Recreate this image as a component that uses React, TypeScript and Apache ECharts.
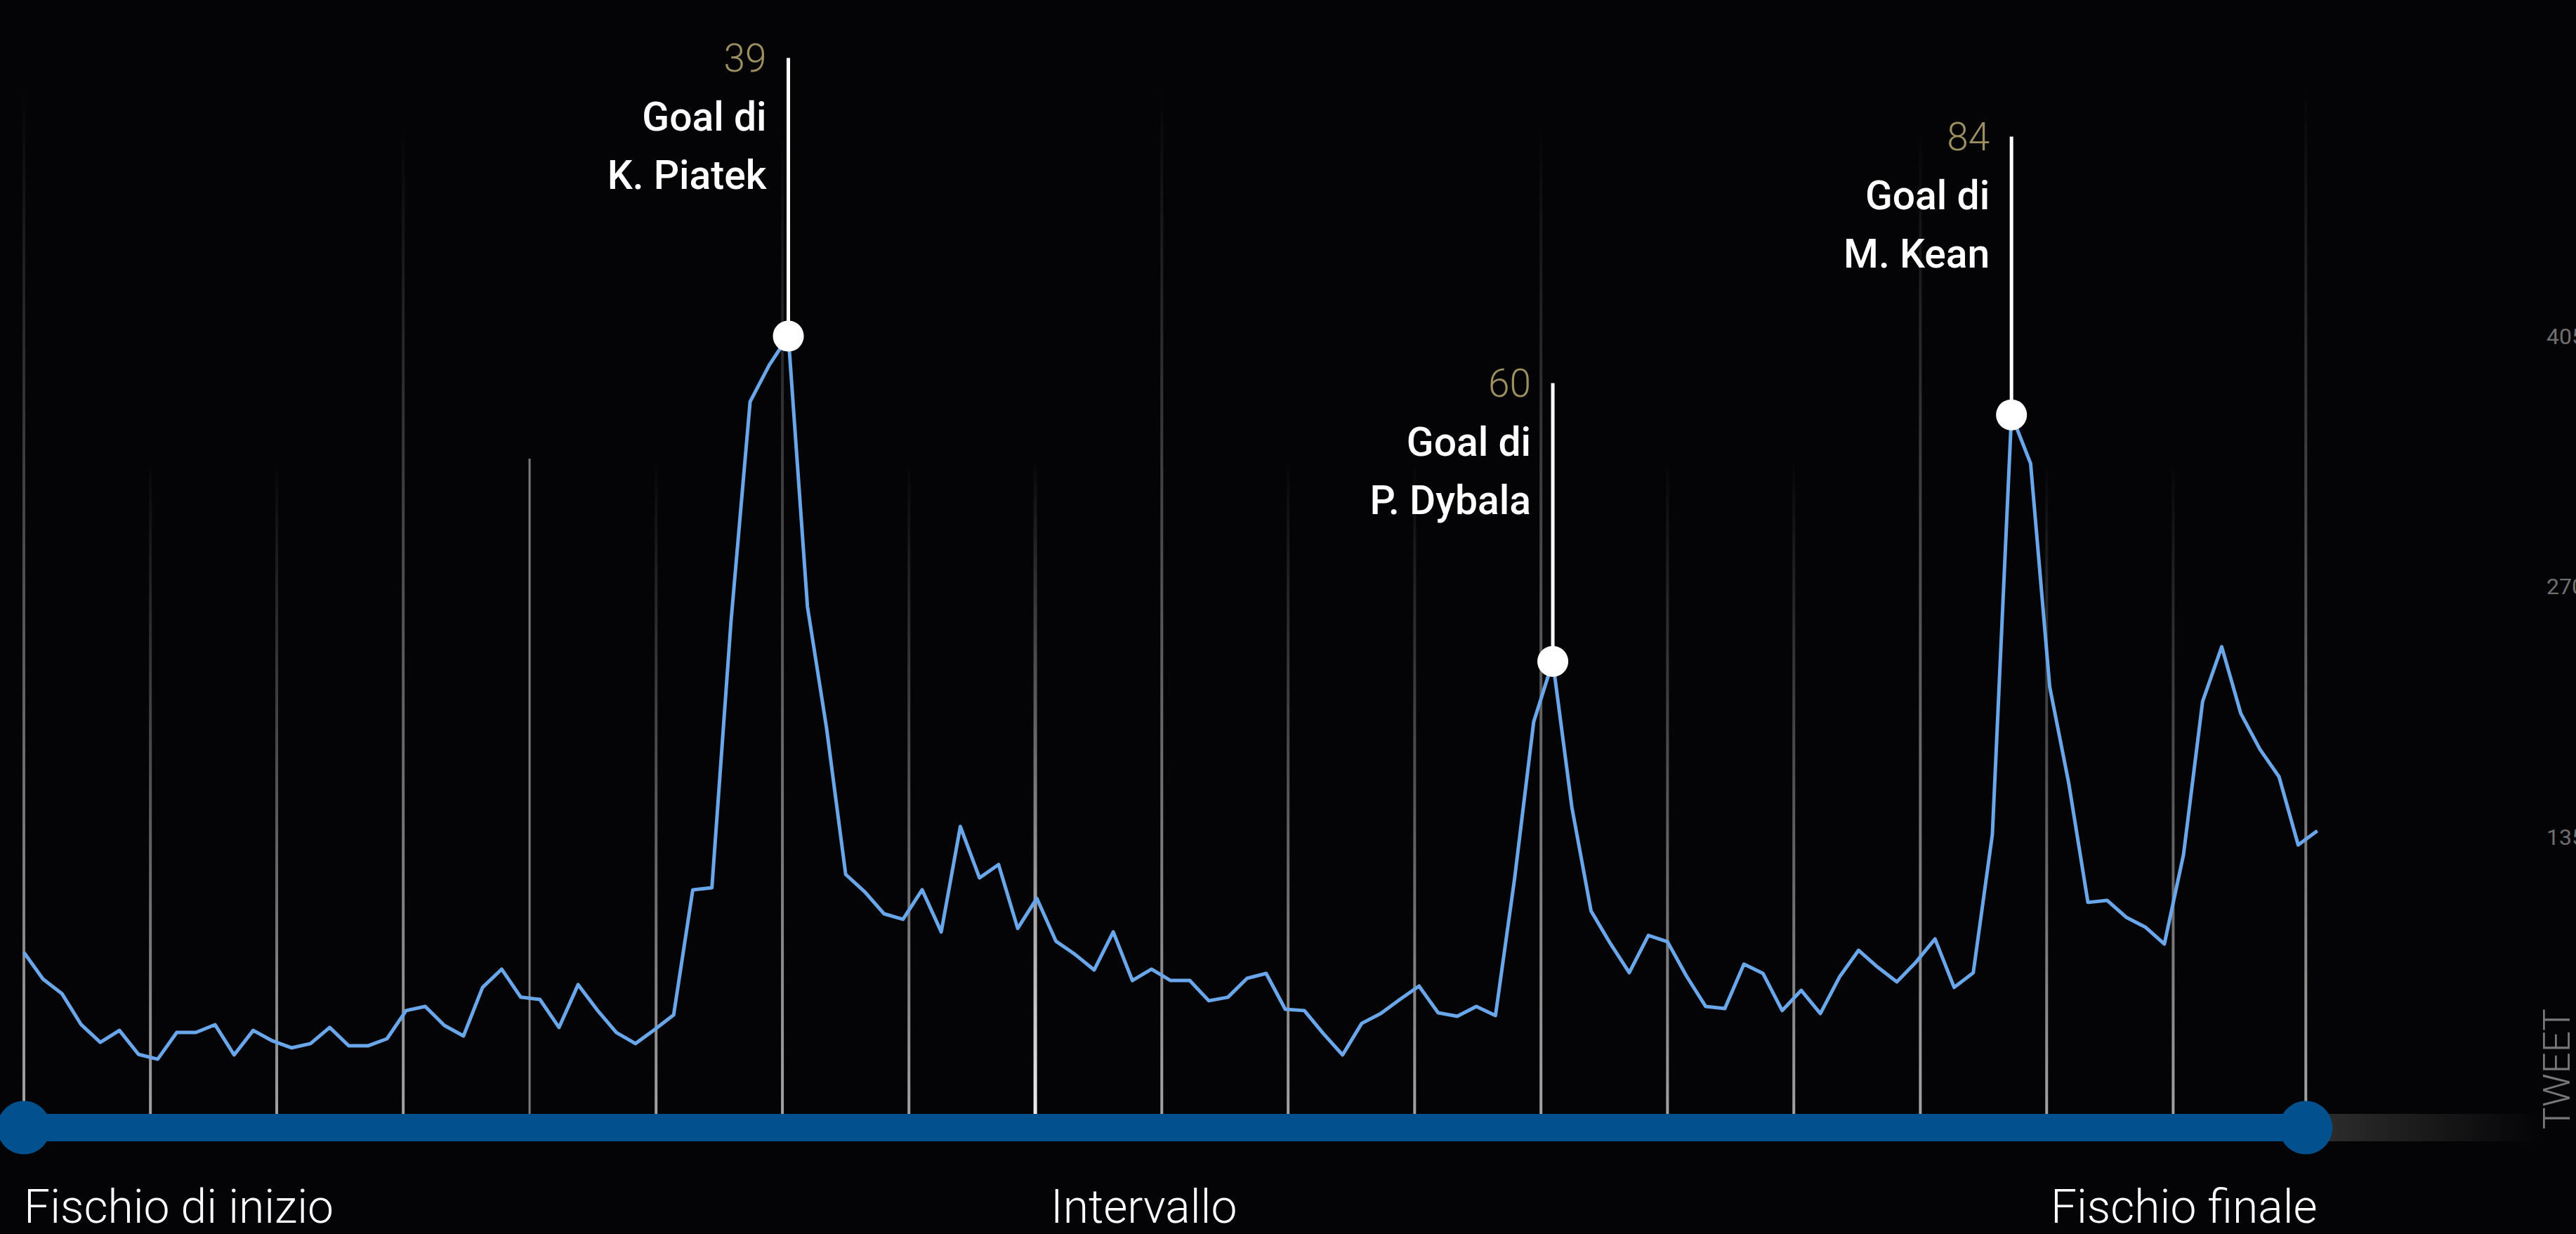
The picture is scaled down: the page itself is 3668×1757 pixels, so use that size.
import React, { useEffect, useRef } from 'react';
import * as echarts from 'echarts';

// Tweets per time slot
const TWEETS = [
  72.9, 58.5, 50.5, 33.9, 24.4, 30.8, 17.9, 15.3, 29.7, 29.7,
  33.9, 17.6, 30.8, 25.2, 21.4, 23.7, 32.4, 22.5, 22.5, 26.3,
  41.5, 43.7, 33.5, 27.8, 54.0, 63.8, 48.7, 47.5, 32.4, 55.5,
  41.8, 29.7, 23.7, 31.2, 39.2, 106.6, 107.7, 251.2, 369.7, 389.4,
  405.0, 259.2, 193.7, 114.9, 105.5, 93.7, 90.7, 106.6, 83.9, 140.7,
  113.0, 120.2, 85.8, 102.0, 78.9, 71.8, 63.4, 83.9, 57.7, 63.8,
  57.7, 57.7, 46.8, 48.7, 58.9, 61.5, 42.2, 41.5, 29.0, 17.6,
  34.6, 39.9, 47.5, 54.7, 40.3, 38.4, 43.7, 38.8, 112.6, 197.1,
  229.7, 150.9, 95.2, 77.8, 61.9, 82.0, 78.6, 60.0, 43.7, 42.6,
  66.5, 61.5, 41.5, 52.4, 39.9, 59.6, 74.0, 64.9, 57.0, 67.6,
  80.1, 54.0, 61.9, 136.5, 362.6, 336.4, 216.0, 163.8, 99.8, 100.9,
  91.8, 86.5, 77.4, 125.5, 208.1, 237.6, 201.6, 182.3, 167.5, 130.8,
  138.4,
];

// Goals: slot index on the x axis, match minute, scorer
const GOAL_SLOT = [40, 80, 104];
const GOAL_MINUTE = ['39', '60', '84'];
const GOAL_PLAYER = ['K. Piatek', 'P. Dybala', 'M. Kean'];
const GOAL_PREFIX = 'Goal di';
const STICK = 150; // height of the annotation stick, in tweets

// Vertical reference lines (x in slots), their top (in tweets) and kind
// kind 0: grey fade, 1: solid grey, 2: white fade (half time)
const GRID_X = [0, 6.62, 13.23, 19.85, 26.46, 33.08, 39.69, 46.31, 52.92, 59.54,
  66.15, 72.77, 79.38, 86.0, 92.61, 99.23, 105.84, 112.46, 119.4];
const GRID_TOP = [538, 339, 339, 518, 339, 339, 518, 339, 339, 538,
  339, 339, 518, 339, 339, 518, 339, 339, 538];
const GRID_KIND = [0, 0, 0, 0, 1, 0, 0, 0, 2, 0, 0, 0, 0, 0, 0, 0, 0, 0, 0];

// Timeline
const START_X = 0;
const FINAL_X = 119.4;
const AXIS_END_X = 131.7;
const TIMELINE_Y = -21.6;

const BOTTOM_TEXT = ['Fischio di inizio', 'Intervallo', 'Fischio finale'];
const BOTTOM_X = [0, 58.6, 120];
const BOTTOM_ALIGN = ['left', 'center', 'right'];

const Y_TICKS = [135, 270, 405];
const Y_MAX = 540;
const Y_NAME = 'TWEET';

const W = 3668;
const H = 1757;
const BG = '#040406';

export default function App() {
  const ref = useRef<HTMLDivElement | null>(null);

  useEffect(() => {
    if (!ref.current) return;
    const chart = echarts.init(ref.current, null, { renderer: 'svg', width: W, height: H });

    const option: any = {
      animation: false,
      backgroundColor: BG,
      grid: {
        left: 34, right: 50, top: 122, bottom: 208.5,
        containLabel: false, outerBoundsMode: 'none',
      },
      xAxis: {
        type: 'value', min: 0, max: AXIS_END_X, show: false,
      },
      yAxis: {
        type: 'value', position: 'right', min: 0, max: Y_MAX, interval: 135,
        axisLine: { show: false }, axisTick: { show: false }, splitLine: { show: false },
        axisLabel: {
          margin: 8, color: '#6f6f6f', fontSize: 32, fontFamily: 'Roboto',
          formatter: (v: number) => (Y_TICKS.indexOf(v) >= 0 ? String(v) : ''),
        },
      },
      graphic: [
        {
          type: 'text', x: 3641, y: 1608, rotation: Math.PI / 2, silent: true,
          style: {
            text: Y_NAME, fill: '#777777', font: '300 53px Roboto',
            align: 'left', verticalAlign: 'middle',
          },
        },
      ],
      series: [
        {
          type: 'custom', name: 'grid', z: 1, clip: false,
          encode: { x: 0, y: 1 },
          data: GRID_X.map((x, i) => [x, GRID_TOP[i], GRID_KIND[i]]),
          renderItem: (params: any, api: any) => {
            const x = api.value(0);
            const top = api.value(1);
            const kind = api.value(2);
            const pt = api.coord([x, top]);
            const pb = api.coord([x, TIMELINE_Y]);
            const w = kind === 1 ? 3 : kind === 2 ? 5 : 4;
            const fill = kind === 1
              ? '#7a7a7a'
              : new echarts.graphic.LinearGradient(0, 0, 0, 1, [
                { offset: 0, color: kind === 2 ? 'rgba(240,240,240,0)' : 'rgba(165,165,165,0)' },
                { offset: 1, color: kind === 2 ? 'rgba(240,240,240,1)' : 'rgba(165,165,165,1)' },
              ]);
            return {
              type: 'rect',
              shape: { x: pt[0] - w / 2, y: pt[1], width: w, height: pb[1] - pt[1] },
              style: { fill },
            };
          },
        },
        {
          type: 'line', name: 'tweet', z: 3,
          data: TWEETS.map((v, i) => [i, v]),
          showSymbol: false, symbol: 'none',
          lineStyle: { color: '#6aa6ea', width: 5, join: 'round' },
        },
        {
          type: 'custom', name: 'timeline', z: 4, clip: false,
          encode: { x: [0, 1, 2] },
          data: [[START_X, FINAL_X, AXIS_END_X]],
          renderItem: (params: any, api: any) => {
            const s = api.coord([api.value(0), TIMELINE_Y]);
            const f = api.coord([api.value(1), TIMELINE_Y]);
            const e = api.coord([api.value(2), TIMELINE_Y]);
            const th = 39;
            return {
              type: 'group',
              children: [
                {
                  type: 'rect',
                  shape: { x: f[0], y: f[1] - th / 2, width: e[0] - f[0], height: th },
                  style: {
                    fill: new echarts.graphic.LinearGradient(0, 0, 1, 0, [
                      { offset: 0, color: 'rgba(48,48,48,1)' },
                      { offset: 1, color: 'rgba(48,48,48,0)' },
                    ]),
                  },
                },
                {
                  type: 'rect',
                  shape: { x: s[0], y: s[1] - th / 2, width: f[0] - s[0], height: th },
                  style: { fill: '#03508f' },
                },
                { type: 'circle', shape: { cx: s[0], cy: s[1], r: 38 }, style: { fill: '#03508f' } },
                { type: 'circle', shape: { cx: f[0], cy: f[1], r: 38 }, style: { fill: '#03508f' } },
              ],
            };
          },
        },
        {
          type: 'custom', name: 'labels', z: 4, clip: false,
          encode: { x: 0, y: 1 },
          data: BOTTOM_X.map((x, i) => [x, 0, i]),
          renderItem: (params: any, api: any) => {
            const i = api.value(2);
            const p = api.coord([api.value(0), 0]);
            return {
              type: 'text', x: p[0], y: p[1] + 170,
              style: {
                text: BOTTOM_TEXT[i], fill: '#ffffff', font: '300 66px Roboto',
                align: BOTTOM_ALIGN[i], verticalAlign: 'middle',
              },
            };
          },
        },
        {
          type: 'custom', name: 'goals', z: 5, clip: false,
          encode: { x: 0, y: 1 },
          data: GOAL_SLOT.map((s, i) => [s, TWEETS[s], i]),
          renderItem: (params: any, api: any) => {
            const x = api.value(0);
            const y = api.value(1);
            const i = api.value(2);
            const p = api.coord([x, y]);
            const t = api.coord([x, y + STICK]);
            const tx = t[0] - 31;
            return {
              type: 'group',
              children: [
                {
                  type: 'line',
                  shape: { x1: p[0], y1: p[1], x2: t[0], y2: t[1] },
                  style: { stroke: '#ffffff', lineWidth: 5 },
                },
                { type: 'circle', shape: { cx: p[0], cy: p[1], r: 22 }, style: { fill: '#ffffff' } },
                {
                  type: 'text', x: tx, y: t[1] + 1,
                  style: {
                    text: GOAL_MINUTE[i], fill: '#9c8f60', font: '300 55px Roboto',
                    align: 'right', verticalAlign: 'middle',
                  },
                },
                {
                  type: 'text', x: tx, y: t[1] + 84,
                  style: {
                    text: GOAL_PREFIX, fill: '#ffffff', font: '500 57px Roboto',
                    align: 'right', verticalAlign: 'middle',
                  },
                },
                {
                  type: 'text', x: tx, y: t[1] + 167,
                  style: {
                    text: GOAL_PLAYER[i], fill: '#ffffff', font: '500 57px Roboto',
                    align: 'right', verticalAlign: 'middle',
                  },
                },
              ],
            };
          },
        },
      ],
    };

    chart.setOption(option);
    return () => chart.dispose();
  }, []);

  return (
    <div
      ref={ref}
      style={{ position: 'fixed', left: 0, top: 0, width: W, height: H, background: BG }}
    />
  );
}
